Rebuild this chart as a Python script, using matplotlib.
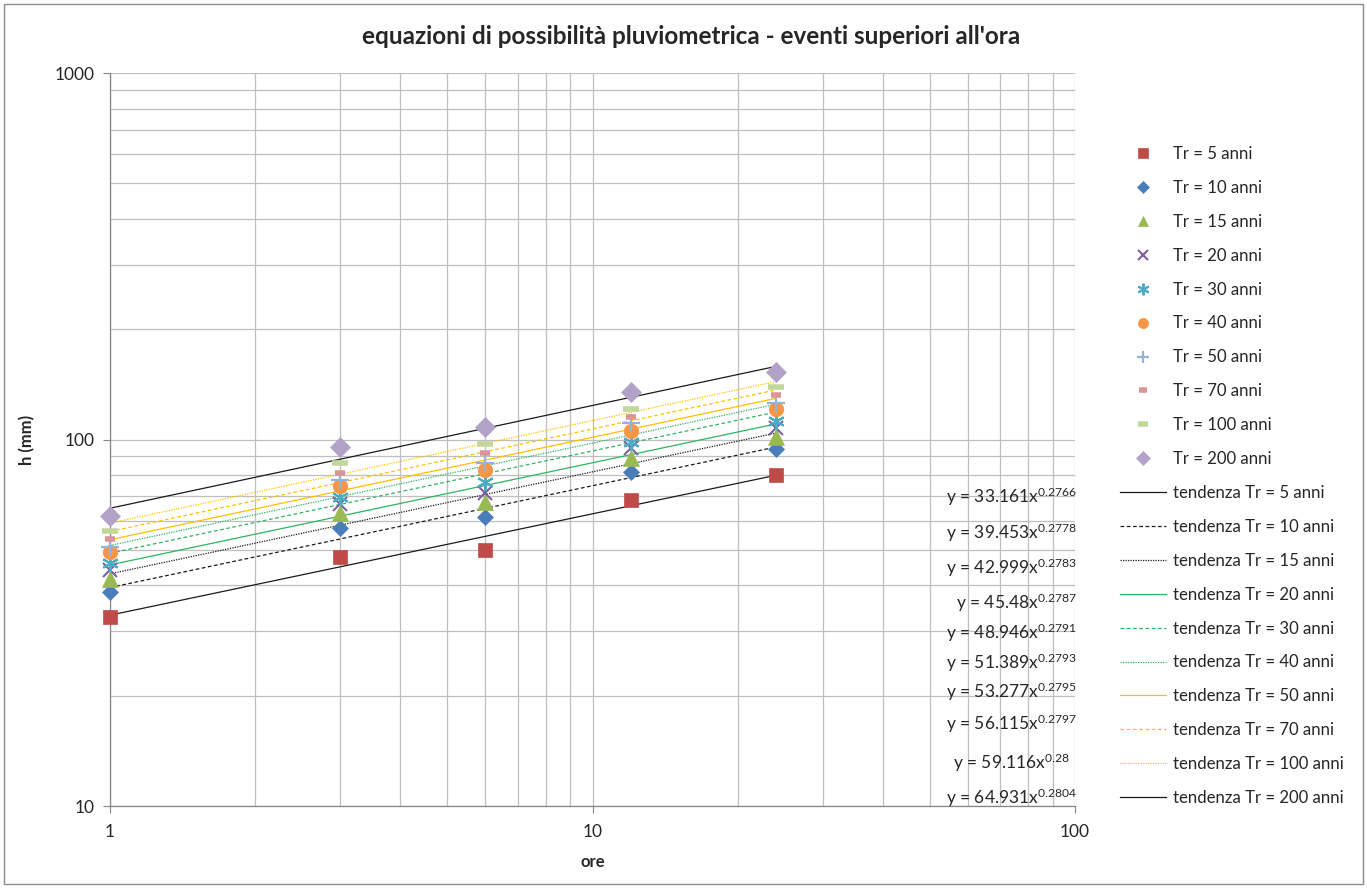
import matplotlib
matplotlib.use("Agg")
import matplotlib.pyplot as plt
import numpy as np
from matplotlib.patches import Rectangle

plt.rcParams['font.family'] = ['Lato', 'DejaVu Sans']
plt.rcParams['mathtext.fontset'] = 'custom'
plt.rcParams['mathtext.rm'] = 'Lato'
plt.rcParams['mathtext.it'] = 'Lato'

# ---------------- data ----------------
durations = [1, 3, 6, 12, 24]
tr_labels = ['5', '10', '15', '20', '30', '40', '50', '70', '100', '200']

h_tr5 = [32.8, 47.8, 49.9, 68.4, 80.0]
h_tr10 = [38.4, 57.3, 61.5, 81.4, 94.2]
h_tr15 = [41.6, 63.0, 67.5, 89.0, 101.6]
h_tr20 = [44.0, 66.7, 71.5, 94.8, 107.5]
h_tr30 = [46.0, 69.7, 76.6, 98.4, 112.3]
h_tr40 = [49.3, 74.6, 82.6, 105.5, 121.1]
h_tr50 = [50.9, 77.5, 86.3, 110.9, 125.8]
h_tr70 = [53.5, 81.0, 91.9, 115.2, 132.2]
h_tr100 = [56.3, 86.3, 97.2, 121.2, 139.1]
h_tr200 = [61.9, 95.4, 108.2, 134.8, 152.8]
series = [h_tr5, h_tr10, h_tr15, h_tr20, h_tr30, h_tr40, h_tr50, h_tr70, h_tr100, h_tr200]

# fitted power-law coefficients shown on the chart: y = a * x^b
coef_a = [33.161, 39.453, 42.999, 45.48, 48.946, 51.389, 53.277, 56.115, 59.116, 64.931]
coef_b = [0.2766, 0.2778, 0.2783, 0.2787, 0.2791, 0.2793, 0.2795, 0.2797, 0.28, 0.2804]
coef_a_txt = ['33.161', '39.453', '42.999', '45.48', '48.946', '51.389', '53.277', '56.115', '59.116', '64.931']
coef_b_txt = ['0.2766', '0.2778', '0.2783', '0.2787', '0.2791', '0.2793', '0.2795', '0.2797', '0.28', '0.2804']

# ---------------- styles ----------------
marker_styles = [
    dict(marker='s', ms=10, mfc='#BE4B48', mec='#BE4B48', mew=0.5),
    dict(marker='D', ms=8.5, mfc='#4A7EBB', mec='#4A7EBB', mew=0.5),
    dict(marker='^', ms=11, mfc='#98B954', mec='#98B954', mew=0.5),
    dict(marker='x', ms=10, mfc='none', mec='#7D60A0', mew=1.5),
    dict(marker=(6, 2, 0), ms=12, mfc='none', mec='#4BACC6', mew=1.5),
    dict(marker='o', ms=10.5, mfc='#F79646', mec='#F79646', mew=0.5),
    dict(marker='+', ms=13, mfc='none', mec='#95B3D7', mew=1.6),
    dict(marker='_', ms=7.5, mfc='#DA9694', mec='#DA9694', mew=4),
    dict(marker='_', ms=11, mfc='#C3D69B', mec='#C3D69B', mew=4),
    dict(marker='D', ms=10, mfc='#B3A2C7', mec='#B3A2C7', mew=0.5),
]
trend_styles = [
    dict(color='#1a1a1a', ls='-'),
    dict(color='#1a1a1a', ls=(0, (3, 2))),
    dict(color='#1a1a1a', ls=(0, (1, 1))),
    dict(color='#2FB560', ls='-'),
    dict(color='#2FB560', ls=(0, (3, 2))),
    dict(color='#2FB560', ls=(0, (1, 1))),
    dict(color='#FFC000', ls='-'),
    dict(color='#FFC000', ls=(0, (3, 2))),
    dict(color='#FFC000', ls=(0, (1, 1))),
    dict(color='#1a1a1a', ls='-'),
]

W, H = 1367, 888
fig = plt.figure(figsize=(W / 100, H / 100), dpi=100)
ax = fig.add_axes([110 / W, 1 - 806 / H, (1075 - 110) / W, (806 - 73) / H])

ax.set_xscale('log')
ax.set_yscale('log')
ax.set_xlim(1, 100)
ax.set_ylim(10, 1000)

# trend lines
xt = np.array(durations, dtype=float)
trend_handles = []
for a, b, st, lab in zip(coef_a, coef_b, trend_styles, tr_labels):
    xx = np.geomspace(xt.min(), xt.max(), 50)
    ln, = ax.plot(xx, a * xx ** b, lw=0.9, zorder=2, label='tendenza Tr = %s anni' % lab, **st)
    trend_handles.append(ln)

marker_handles = []
for vals, st, lab in zip(series, marker_styles, tr_labels):
    h, = ax.plot(durations, vals, ls='none', zorder=3, clip_on=False, label='Tr = %s anni' % lab, **st)
    marker_handles.append(h)

# grid
ax.grid(True, which='major', color='#BFBFBF', lw=0.9)
ax.grid(True, which='minor', color='#BFBFBF', lw=0.9)
ax.set_axisbelow(True)
for s in ['top', 'right']:
    ax.spines[s].set_visible(False)
for s in ['left', 'bottom']:
    ax.spines[s].set_color('#868686')
    ax.spines[s].set_linewidth(0.9)

ax.set_xticks([1, 10, 100])
ax.set_xticklabels(['1', '10', '100'])
ax.set_yticks([10, 100, 1000])
ax.set_yticklabels(['10', '100', '1000'])
ax.tick_params(which='major', length=5, color='#868686', labelsize=12.5, labelcolor='#262626', pad=6)
ax.tick_params(which='minor', length=0)
ax.tick_params(axis='x', pad=8)

ax.set_xlabel('ore', fontsize=12, fontweight='bold', labelpad=10, color='#262626')
ax.set_ylabel('h (mm)', fontsize=12, fontweight='bold', labelpad=14, color='#262626')
fig.text(691 / W, 1 - 37 / H, "equazioni di possibilità pluviometrica - eventi superiori all'ora",
         fontsize=17.5, fontweight='bold', ha='center', va='center', color='#262626')

# equation labels
eq_y = [497, 533, 568, 603, 633, 663, 692, 724, 763, 798]
eq_x = [1077, 1077, 1077, 1077, 1077, 1077, 1077, 1077, 1070, 1077]
for at, bt, xx_, yy in zip(coef_a_txt, coef_b_txt, eq_x, eq_y):
    fig.text(xx_ / W, 1 - yy / H, 'y = %sx$^{%s}$' % (at, bt),
             fontsize=12.5, ha='right', va='center', color='#262626')

leg = fig.legend(handles=marker_handles + trend_handles, loc='upper left',
                 bbox_to_anchor=(1120 / W, 1 - 146 / H), frameon=False,
                 fontsize=12.1, labelspacing=1.065, handlelength=2.74, handletextpad=0.42,
                 markerscale=0.7, borderaxespad=0, borderpad=0)
for t in leg.get_texts():
    t.set_color('#262626')

fig.patches.append(Rectangle((4 / W, 4 / H), (W - 8) / W, (H - 8) / H, transform=fig.transFigure,
                             fill=False, edgecolor='#8c8c8c', lw=1))

fig.savefig('out.png', dpi=100)
